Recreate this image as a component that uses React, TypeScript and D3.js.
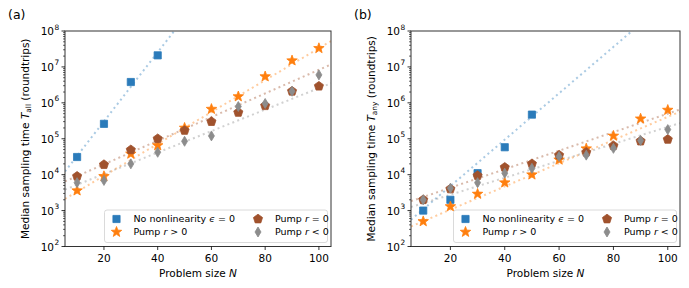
import * as d3 from 'd3';

const sizes = [10, 20, 30, 40, 50, 60, 70, 80, 90, 100];

// panel (a): T_all, median sampling time (roundtrips)
const allNoNonlin = [3.1e4, 2.6e5, 3.8e6, 2.1e7];
const allPumpPos = [3.6e3, 9e3, 3.8e4, 6.5e4, 2.0e5, 6.7e5, 1.5e6, 5.4e6, 1.5e7, 3.3e7];
const allPumpZero = [9e3, 1.9e4, 4.9e4, 1.0e5, 1.7e5, 3.0e5, 5.4e5, 8.3e5, 2.1e6, 2.9e6];
const allPumpNeg = [6e3, 6.9e3, 2.0e4, 4.2e4, 8.5e4, 1.2e5, 7.9e5, 9.6e5, 2.1e6, 6e6];

// panel (b): T_any
const anyNoNonlin = [1.0e3, 2.0e3, 1.1e4, 5.8e4, 4.7e5];
const anyPumpPos = [5e2, 1.3e3, 2.9e3, 6e3, 1e4, 2.6e4, 5.3e4, 1.2e5, 3.6e5, 6.3e5];
const anyPumpZero = [2.0e3, 4e3, 9.4e3, 1.6e4, 2.0e4, 3.5e4, 4.2e4, 6.4e4, 8.6e4, 9.6e4];
const anyPumpNeg = [2.0e3, 4.2e3, 6e3, 1.1e4, 1.5e4, 3.2e4, 3.5e4, 5.4e4, 9e4, 1.8e5];

// exponential fits, log10(T) = a + b * N  (order: no nonlin, r>0, r=0, r<0)
const allFitA = [3.56, 3.08, 3.63, 3.42];
const allFitB = [0.0962, 0.0444, 0.0329, 0.0299];
const anyFitA = [2.39, 2.38, 3.12, 2.97];
const anyFitB = [0.0646, 0.0323, 0.0258, 0.0236];

const xTicks = [20, 40, 60, 80, 100];
const colors = ['#2b7bba', '#ff7f0e', '#a0522d', '#8c8c8c'];
const markers = ['square', 'star', 'pentagon', 'diamond'];
const font = 'DejaVu Sans';

const polygon = (n: number, r: number, inner = 0) => {
  const pts: [number, number][] = [];
  const step = inner ? Math.PI / n : (2 * Math.PI) / n;
  const count = inner ? n * 2 : n;
  for (let i = 0; i < count; i++) {
    const rr = inner && i % 2 === 1 ? r * inner : r;
    const a = -Math.PI / 2 + i * step;
    pts.push([rr * Math.cos(a), rr * Math.sin(a)]);
  }
  return 'M' + pts.map(p => p.join(',')).join('L') + 'Z';
};

const markerPath = (kind: string) => {
  if (kind === 'square') return 'M-3.6,-3.6h7.2v7.2h-7.2Z';
  if (kind === 'star') return polygon(5, 5.5, 0.42);
  if (kind === 'pentagon') return polygon(5, 4.8);
  return 'M0,-5L3,0L0,5L-3,0Z';
};

const Marker = ({ x, y, i }: { x: number; y: number; i: number }) => (
  <path d={markerPath(markers[i])} transform={`translate(${x},${y})`}
    fill={colors[i]} stroke={colors[i]} strokeWidth={0.8} />
);

interface PanelProps {
  id: string;
  label: string;
  sub: string;
  left: number;
  right: number;
  series: number[][];
  fitA: number[];
  fitB: number[];
}

const top = 31;
const bottom = 246.5;

const Panel = ({ id, label, sub, left, right, series, fitA, fitB }: PanelProps) => {
  const x = d3.scaleLinear().domain([5.5, 104.5]).range([left, right]);
  const y = d3.scaleLog().domain([1e2, 1e8]).range([bottom, top]);
  const yTicks = y.ticks();
  const major = yTicks.filter(t => Math.abs(Math.log10(t) - Math.round(Math.log10(t))) < 1e-9);
  const minor = yTicks.filter(t => !major.includes(t));
  const clipId = `clip-${id}`;

  const legLeft = right - 226.5;
  const legTop = bottom - 36.5;
  const legend = [
    { i: 0, dx: 12, dy: 9, txt: <>No nonlinearity <tspan fontStyle="italic">ϵ</tspan> = 0</> },
    { i: 1, dx: 12, dy: 22, txt: <>Pump <tspan fontStyle="italic">r</tspan> &gt; 0</> },
    { i: 2, dx: 153.5, dy: 9, txt: <>Pump <tspan fontStyle="italic">r</tspan> = 0</> },
    { i: 3, dx: 153.5, dy: 22, txt: <>Pump <tspan fontStyle="italic">r</tspan> &lt; 0</> },
  ];

  return (
    <g fontFamily={font}>
      <defs>
        <clipPath id={clipId}>
          <rect x={left} y={top} width={right - left} height={bottom - top} />
        </clipPath>
      </defs>
      <text x={left - 57} y={19} fontSize={12.5} fill="#000">{label}</text>

      {/* fit lines */}
      <g clipPath={`url(#${clipId})`}>
        {fitA.map((a, i) => {
          const d = d3.line<number>()
            .x(n => x(n))
            .y(n => y(Math.pow(10, a + fitB[i] * n)))(x.domain());
          return (
            <path key={i} d={d ?? ''} fill="none" stroke={colors[i]} strokeOpacity={0.4}
              strokeWidth={2} strokeDasharray="2,3.3" />
          );
        })}
      </g>

      {/* data markers */}
      {series.map((vals, i) => (
        <g key={i}>
          {vals.map((v, j) => <Marker key={j} x={x(sizes[j])} y={y(v)} i={i} />)}
        </g>
      ))}

      {/* frame */}
      <rect x={left} y={top} width={right - left} height={bottom - top} fill="none" stroke="#333" strokeWidth={1} />

      {/* x axis */}
      {xTicks.map(t => (
        <g key={t}>
          <line x1={x(t)} x2={x(t)} y1={bottom} y2={bottom + 3.5} stroke="#000" strokeWidth={0.8} />
          <text x={x(t)} y={bottom + 15} textAnchor="middle" fontSize={10.5}>{t}</text>
        </g>
      ))}
      <text x={(left + right) / 2} y={277} textAnchor="middle" fontSize={10.5}>
        Problem size <tspan fontStyle="italic">N</tspan>
      </text>

      {/* y axis */}
      {minor.map(t => (
        <line key={t} x1={left - 2} x2={left} y1={y(t)} y2={y(t)} stroke="#000" strokeWidth={0.6} />
      ))}
      {major.map(t => {
        const e = Math.round(Math.log10(t));
        return (
          <g key={t}>
            <line x1={left - 3.5} x2={left} y1={y(t)} y2={y(t)} stroke="#000" strokeWidth={0.8} />
            <text x={left - 11} y={y(t) + 4} textAnchor="end" fontSize={10.5}>10</text>
            <text x={left - 10.6} y={y(t) - 1.5} fontSize={7.4}>{e}</text>
          </g>
        );
      })}
      <text transform={`translate(${left - 36},${(top + bottom) / 2}) rotate(-90)`} textAnchor="middle" fontSize={10.5}>
        Median sampling time <tspan fontStyle="italic">T</tspan>
        <tspan fontSize={7.4} dy={2}>{sub}</tspan>
        <tspan dy={-2}> (roundtrips)</tspan>
      </text>

      {/* legend */}
      <rect x={legLeft} y={legTop} width={223} height={32.5} rx={2.5} fill="#fff" fillOpacity={0.85}
        stroke="#d0d0d0" strokeWidth={0.8} />
      {legend.map(l => (
        <g key={l.i}>
          <Marker x={legLeft + l.dx} y={legTop + l.dy} i={l.i} />
          <text x={legLeft + l.dx + 17} y={legTop + l.dy + 3.4} fontSize={9.5}>{l.txt}</text>
        </g>
      ))}
    </g>
  );
};

export default function App() {
  return (
    <svg width={689} height={288} style={{ position: 'absolute', left: 0, top: 0, background: '#fff' }}>
      <rect width={689} height={288} fill="#fff" />
      <Panel id="a" label="(a)" sub="all" left={65} right={331}
        series={[allNoNonlin, allPumpPos, allPumpZero, allPumpNeg]} fitA={allFitA} fitB={allFitB} />
      <Panel id="b" label="(b)" sub="any" left={411} right={680}
        series={[anyNoNonlin, anyPumpPos, anyPumpZero, anyPumpNeg]} fitA={anyFitA} fitB={anyFitB} />
    </svg>
  );
}
